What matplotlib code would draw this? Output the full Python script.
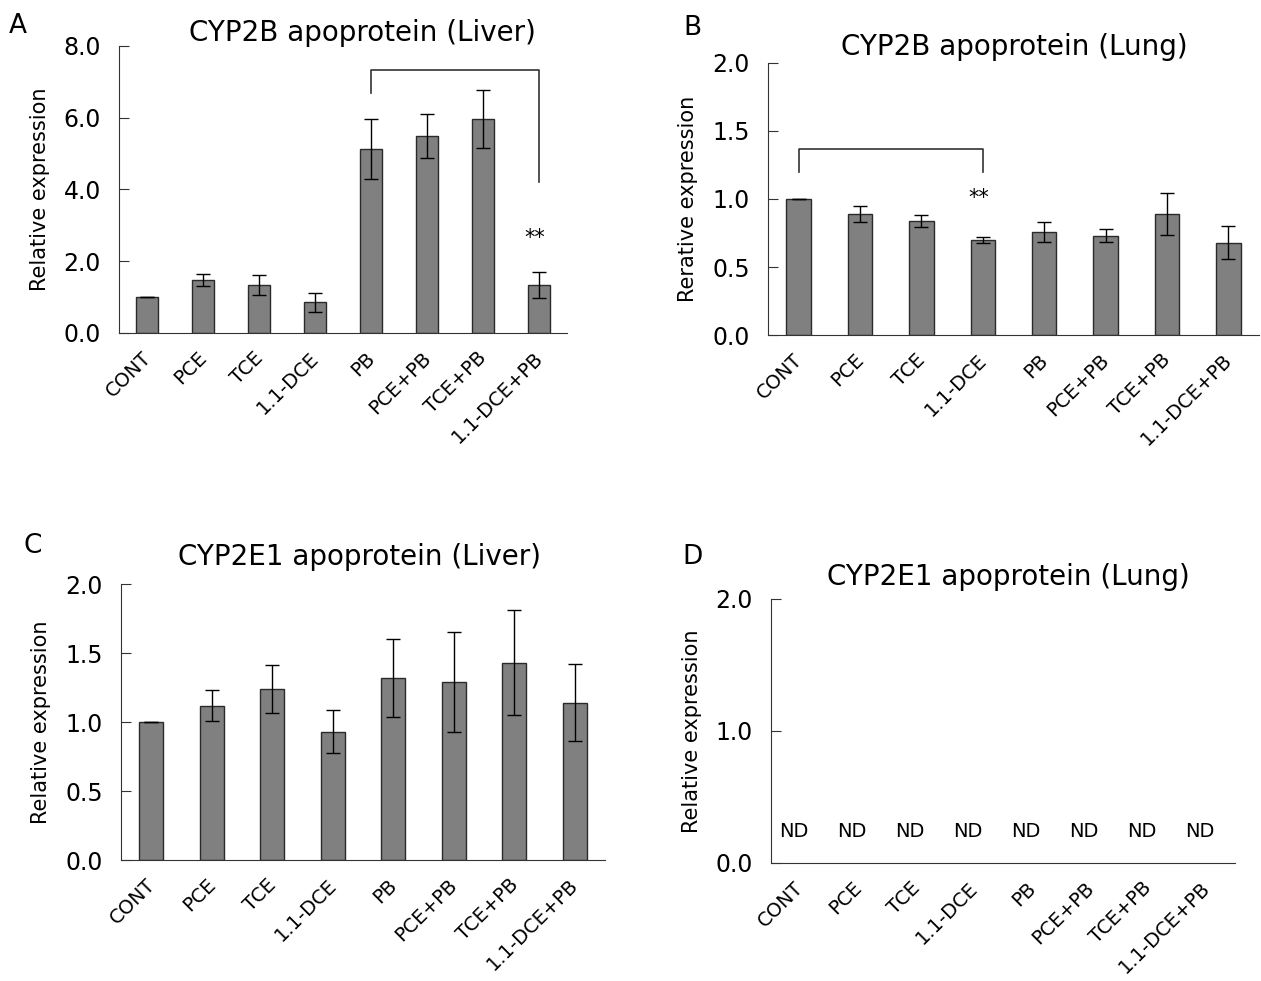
import numpy as np
import matplotlib
matplotlib.use('Agg')
import matplotlib.pyplot as plt
from matplotlib.transforms import ScaledTranslation

# данные
groups = ['CONT', 'PCE', 'TCE', '1.1-DCE', 'PB', 'PCE+PB', 'TCE+PB', '1.1-DCE+PB']

liver_2b = [1.00, 1.47, 1.34, 0.85, 5.13, 5.48, 5.96, 1.34]
liver_2b_err = [0.00, 0.16, 0.28, 0.26, 0.84, 0.61, 0.81, 0.36]

lung_2b = [1.00, 0.89, 0.84, 0.70, 0.76, 0.73, 0.89, 0.68]
lung_2b_err = [0.00, 0.06, 0.045, 0.02, 0.074, 0.047, 0.152, 0.118]

liver_2e1 = [1.00, 1.12, 1.24, 0.93, 1.32, 1.29, 1.43, 1.14]
liver_2e1_err = [0.00, 0.113, 0.172, 0.157, 0.283, 0.36, 0.38, 0.28]

lung_2e1_nd = ['ND'] * 8

plt.rcParams['font.family'] = ['DejaVu Sans']

fig = plt.figure(figsize=(12.61, 9.81), dpi=100, facecolor='white')

# положения осей (в долях фигуры)
axA = fig.add_axes([0.0944, 0.6606, 0.3553, 0.2926])
axB = fig.add_axes([0.609, 0.6585, 0.3894, 0.2773])
axC = fig.add_axes([0.096, 0.1233, 0.3838, 0.2813])
axD = fig.add_axes([0.6114, 0.1203, 0.368, 0.2691])

x = np.arange(len(groups))


def style(ax, ylim, yticks, ylabel):
    ax.set_xlim(-0.5, 7.5)
    ax.set_ylim(*ylim)
    ax.set_yticks(yticks)
    ax.set_yticklabels(['%.1f' % t for t in yticks], fontsize=17)
    ax.spines['top'].set_visible(False)
    ax.spines['right'].set_visible(False)
    ax.spines['left'].set_color('#333333')
    ax.spines['bottom'].set_color('#333333')
    ax.tick_params(axis='y', direction='in', length=7, color='#333333', pad=13)
    ax.set_xticks(x)
    ax.set_xticklabels(groups, rotation=45, ha='right', rotation_mode='anchor', fontsize=14)
    ax.tick_params(axis='x', length=0, pad=11)
    # сдвиг подписей чуть влево, как в оригинале
    off = ScaledTranslation(-6 / 100, 0, fig.dpi_scale_trans)
    for lab in ax.get_xticklabels():
        lab.set_transform(lab.get_transform() + off)
    ax.set_ylabel(ylabel, fontsize=15, labelpad=10)


def bars(ax, vals, errs):
    ax.bar(x, vals, width=0.4, color='#808080', edgecolor='#2a2a2a', linewidth=1.0, zorder=2)
    ax.errorbar(x, vals, yerr=errs, fmt='none', ecolor='black', elinewidth=1.0,
                capsize=5, capthick=1.0, zorder=3)


# A
bars(axA, liver_2b, liver_2b_err)
style(axA, (0, 8.0), [0, 2, 4, 6, 8], 'Relative expression')
axA.plot([4, 4, 7, 7], [6.68, 7.33, 7.33, 4.22], color='#333333', lw=1.2, clip_on=False)
axA.text(6.93, 2.66, '**', ha='center', va='center', fontsize=15)

# B
bars(axB, lung_2b, lung_2b_err)
style(axB, (0, 2.0), [0, 0.5, 1.0, 1.5, 2.0], 'Rerative expression')
axB.plot([0, 0, 3, 3], [1.198, 1.364, 1.364, 1.198], color='#333333', lw=1.2)
axB.text(2.93, 1.006, '**', ha='center', va='center', fontsize=15)

# C
bars(axC, liver_2e1, liver_2e1_err)
style(axC, (0, 2.0), [0, 0.5, 1.0, 1.5, 2.0], 'Relative expression')

# D
style(axD, (0, 2.0), [0, 1.0, 2.0], 'Relative expression')
for i, s in enumerate(lung_2e1_nd):
    axD.text(x[i] - 0.1, 0.235, s, ha='center', va='center', fontsize=14)

# заголовки и буквы панелей
fig.text(362 / 1261, 1 - 33 / 981, 'CYP2B apoprotein (Liver)', ha='center', va='center', fontsize=20)
fig.text(1014 / 1261, 1 - 47 / 981, 'CYP2B apoprotein (Lung)', ha='center', va='center', fontsize=20)
fig.text(360 / 1261, 1 - 557 / 981, 'CYP2E1 apoprotein (Liver)', ha='center', va='center', fontsize=20)
fig.text(1008 / 1261, 1 - 577 / 981, 'CYP2E1 apoprotein (Lung)', ha='center', va='center', fontsize=20)

fig.text(18 / 1261, 1 - 26 / 981, 'A', ha='center', va='center', fontsize=19)
fig.text(692 / 1261, 1 - 28 / 981, 'B', ha='center', va='center', fontsize=19)
fig.text(33 / 1261, 1 - 546 / 981, 'C', ha='center', va='center', fontsize=19)
fig.text(692 / 1261, 1 - 557 / 981, 'D', ha='center', va='center', fontsize=19)

fig.savefig('out.png', dpi=100)
